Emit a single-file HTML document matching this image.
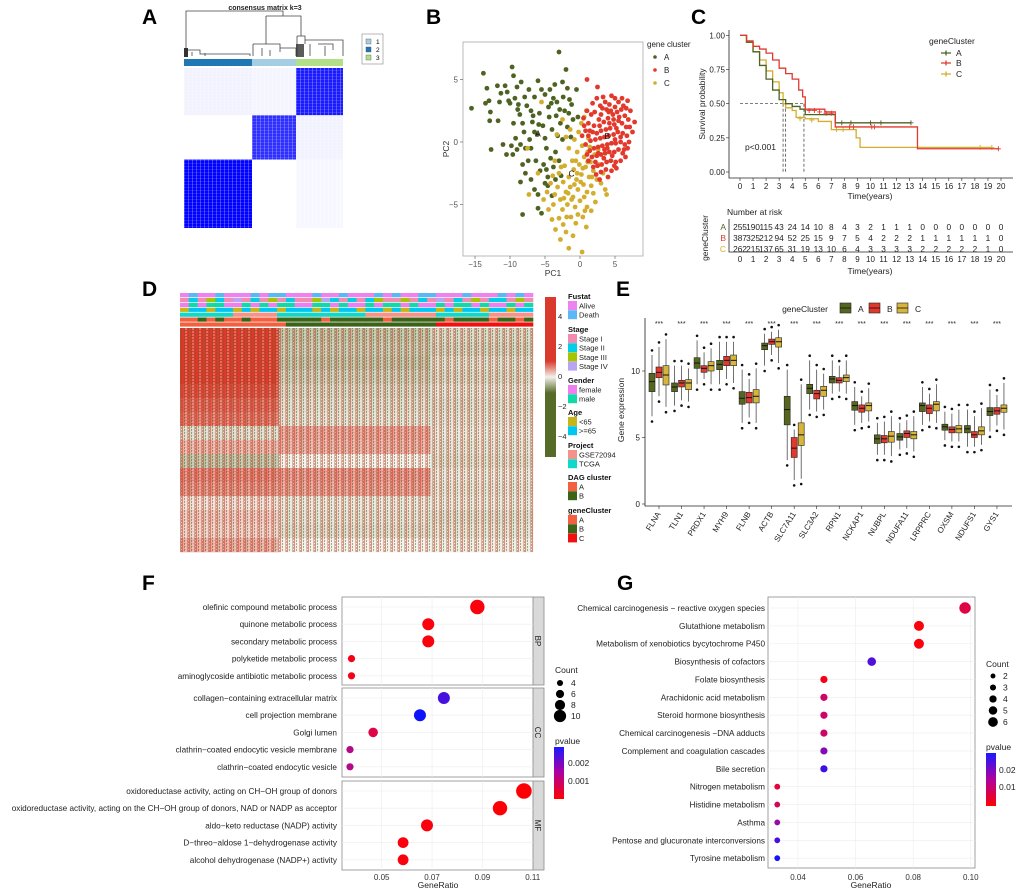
<!DOCTYPE html>
<html><head><meta charset="utf-8">
<style>
body{margin:0;background:#fff}
svg{display:block;font-family:"Liberation Sans",sans-serif}
</style></head>
<body>
<svg id="fig" width="1020" height="891" viewBox="0 0 1020 891">
<defs>
  <pattern id="tex" width="7" height="3" patternUnits="userSpaceOnUse">
    <rect x="0" y="0" width="1" height="3" fill="#d93a2b" opacity="0.55"/>
    <rect x="2" y="0" width="1" height="2" fill="#4f6420" opacity="0.5"/>
    <rect x="3.5" y="1" width="1" height="2" fill="#ffffff" opacity="0.5"/>
    <rect x="5" y="0" width="1" height="3" fill="#d93a2b" opacity="0.35"/>
    <rect x="6" y="1" width="1" height="2" fill="#4f6420" opacity="0.45"/>
  </pattern>
  <pattern id="texA" width="4" height="3" patternUnits="userSpaceOnUse">
    <rect x="0" y="0" width="1" height="3" fill="#ffffff" opacity="0.25"/>
    <rect x="0" y="1" width="4" height="0.6" fill="#ffffff" opacity="0.2"/>
  </pattern>
  <linearGradient id="dGrad" x1="0" y1="0" x2="0" y2="1">
    <stop offset="0" stop-color="#d93a2b"/><stop offset="0.4" stop-color="#d93a2b"/>
    <stop offset="0.5" stop-color="#f3f0ea"/><stop offset="0.6" stop-color="#566b27"/>
    <stop offset="1" stop-color="#566b27"/>
  </linearGradient>
  <linearGradient id="pGrad" x1="0" y1="1" x2="0" y2="0">
    <stop offset="0" stop-color="#ff0000"/><stop offset="0.5" stop-color="#b0009e"/>
    <stop offset="1" stop-color="#1a1aff"/>
  </linearGradient>
</defs>

<text x="142" y="24" font-size="21" font-weight="bold">A</text>
<text x="426" y="24" font-size="21" font-weight="bold">B</text>
<text x="691" y="24" font-size="21" font-weight="bold">C</text>
<text x="142" y="296" font-size="21" font-weight="bold">D</text>
<text x="616" y="296" font-size="21" font-weight="bold">E</text>
<text x="142" y="590" font-size="21" font-weight="bold">F</text>
<text x="617" y="590" font-size="21" font-weight="bold">G</text>

<!-- Panel A static -->
<text x="265" y="10" font-size="7" font-weight="bold" text-anchor="middle" fill="#222">consensus matrix k=3</text>
<g stroke="#444" stroke-width="0.8" fill="none">
  <path d="M186,56 V11 H283 V16"/>
  <path d="M266,16 H301 V36"/>
  <path d="M266,16 V44 M253,44 H280 V52 M253,44 V56 M280,48 H296 V56 M262,48 V56 M270,50 V56"/>
  <path d="M186,50 H200 V54 H250 V56 M192,52 V56 M205,53 V56"/>
  <path d="M297,36 H305 V44 M305,40 H343 V56 M297,36 V56 M310,44 V56 M318,44 H333 V50 M325,46 V56"/>
</g>
<rect x="184" y="48" width="4" height="9" fill="#333"/>
<rect x="296" y="44" width="8" height="13" fill="#333" opacity="0.8"/>
<rect x="362" y="34" width="21" height="30" fill="#fff" stroke="#888" stroke-width="0.6"/>
<rect x="366" y="39" width="5" height="5" fill="#a6cee3" stroke="#555" stroke-width="0.4"/>
<text x="376" y="44" font-size="6.5">1</text>
<rect x="366" y="47" width="5" height="5" fill="#1f78b4" stroke="#555" stroke-width="0.4"/>
<text x="376" y="52" font-size="6.5">2</text>
<rect x="366" y="55" width="5" height="5" fill="#b2df8a" stroke="#555" stroke-width="0.4"/>
<text x="376" y="60" font-size="6.5">3</text>
<g id="panelA"></g>

<!-- Panel B static -->
<rect x="463" y="42" width="180" height="214" fill="#fff" stroke="#aaa" stroke-width="0.8"/>
<text x="553" y="276" font-size="8.5" text-anchor="middle" fill="#333">PC1</text>
<text transform="translate(449,149) rotate(-90)" font-size="8.5" text-anchor="middle" fill="#333">PC2</text>
<text x="647" y="47" font-size="8" fill="#222">gene cluster</text>
<g id="panelB"></g>

<!-- Panel C static -->
<g id="panelC"></g>
<text transform="translate(705,104) rotate(-90)" font-size="8.5" text-anchor="middle" fill="#222">Survival probability</text>
<text x="870" y="199" font-size="8.5" text-anchor="middle" fill="#222">Time(years)</text>
<text x="745" y="150" font-size="8.5" fill="#222">p&lt;0.001</text>
<text x="929" y="44" font-size="8.5" fill="#222">geneCluster</text>
<text x="727" y="215" font-size="8.5" fill="#222">Number at risk</text>
<text transform="translate(708,238) rotate(-90)" font-size="8.5" text-anchor="middle" fill="#222">geneCluster</text>
<text x="870" y="274" font-size="8.5" text-anchor="middle" fill="#222">Time(years)</text>

<!-- Panel D -->
<g id="panelD"></g>
<rect x="545" y="297" width="11" height="160" fill="url(#dGrad)"/>

<!-- Panel E -->
<g id="panelE"></g>
<text transform="translate(624,410) rotate(-90)" font-size="8.5" text-anchor="middle" fill="#222">Gene expression</text>
<text x="805" y="312" font-size="8.5" text-anchor="middle" fill="#222">geneCluster</text>

<!-- Panel F -->
<g id="panelF"></g>
<text x="438" y="888" font-size="8.5" text-anchor="middle" fill="#222">GeneRatio</text>
<text x="555" y="673" font-size="8.5" fill="#222">Count</text>
<text x="555" y="744" font-size="8.5" fill="#222">pvalue</text>
<rect x="554" y="747" width="10" height="52" fill="url(#pGrad)"/>

<!-- Panel G -->
<g id="panelG"></g>
<text x="871" y="888" font-size="8.5" text-anchor="middle" fill="#222">GeneRatio</text>
<text x="986" y="667" font-size="8.5" fill="#222">Count</text>
<text x="986" y="750" font-size="8.5" fill="#222">pvalue</text>
<rect x="986" y="753" width="10" height="53" fill="url(#pGrad)"/>

<script>
// ---------- DATA ----------
const consOrder = ['2','1','3'];
const consSizes = [68, 44, 47];
const consColors = ['#1f78b4','#a6cee3','#b2df8a'];
const consMatrix = [
  [1.0, 0.0, 0.03],
  [0.0, 0.82, 0.05],
  [0.05, 0.04, 0.9]
];
const pcaA = [-15.5,2.7,-13.8,5.5,-13.3,4.3,-13,3.3,-12.8,2.4,-13.5,3.1,-12.9,1.7,-12.7,-0.6,-11.8,4.5,-11.7,1.7,-11.3,3.9,-11.5,3.2,-10.7,4.5,-10.4,4,-10.2,3.3,-10,3.1,-9.7,6,-9.5,5.3,-9.3,3.5,-9,4.4,-8.8,3,-8.6,2.2,-8.4,4.8,-8.2,1.5,-8,0.8,-7.6,2.9,-7.3,4.2,-7,2.5,-6.5,3.6,-6,4.9,-5.5,4.2,-5,3.8,-4.5,2.8,-4.3,4.2,-3.8,3.5,-3.3,3.2,-3,7.2,-2.5,4.8,-2,5.8,-1.8,4.3,-1.5,3.4,-0.5,4.2,-0.3,2,-9.5,1.5,-9.2,0.3,-9.8,-0.3,-9.6,-1,-9,-0.6,-8.5,-0.2,-8.2,-1.8,-7.8,-0.5,-7.4,-1.5,-7,-0.5,-6.5,0.8,-6.1,0.6,-5.8,2.3,-5.3,1.3,-5,0.3,-4.8,-0.5,-4.4,2,-4,1,-3.5,-0.8,-3.2,0.5,-2.8,1.5,-2.5,0.2,-2.2,2.5,-1.8,1.2,-1.3,0.4,-1,1.8,-6.3,-1.5,-5.7,-2.3,-5.2,-1.8,-4.6,-2.8,-4.2,-1.3,-3.8,-2,-3,-1.5,-2.7,-2.7,-8.5,-3.2,-7.8,-2.5,-7,-3,-6.5,-3.8,-6,-4.2,-5,-3.3,-4.6,-3.5,-4,-4.3,-8.2,-5.8,-6,-5.3,-5.5,-5.7,-4.8,-2.2,-3.5,-3,-10.5,-1,-11,-0.2,-7.2,0.2,-6.8,1.6,-3.6,4.6,-2.9,2.6,-1.2,3,-8.9,2.6,-7.9,3.6,-6.7,2.1,-5.9,1.4,-4.1,3.1,-3.4,2.1,-2.4,3.6,-1.6,2.3];
const pcaB = [1,5,2.5,4.4,3.3,3.6,4.5,3.7,6,3.5,6.8,3.3,7.2,2.5,7.8,1.6,5.5,3.2,5,2.8,4.2,3,3.8,2.6,3,2.2,2.4,3.5,1.8,3.1,1,2.5,0.5,1.9,1.2,1.5,2,1.3,2.7,1.8,3.4,1.6,4,1.9,4.7,2.2,5.3,2.4,5.9,2.6,6.4,2.1,6.9,1.8,7.1,1.2,6.6,1.2,6,1.5,5.5,1.7,4.9,1.4,4.3,1.1,3.7,1,3,0.9,2.4,0.7,1.8,0.8,1.2,0.5,0.8,0.9,1.5,0.1,2.2,0.2,2.9,0.3,3.5,0.4,4.1,0.5,4.8,0.6,5.4,0.8,6.1,0.7,6.7,0.5,7,0,6.4,-0.2,5.8,0,5.1,-0.1,4.5,-0.1,3.9,-0.2,3.2,-0.3,2.6,-0.4,2,-0.5,1.4,-0.7,1,-1,1.7,-1.2,2.4,-1.1,3,-1,3.6,-0.9,4.2,-0.8,4.9,-0.8,5.5,-0.6,6.1,-0.9,6.5,-1.2,5.8,-1.5,5.1,-1.6,4.4,-1.5,3.8,-1.6,3.1,-1.8,2.5,-1.9,1.9,-2,2.3,-2.6,3,-2.4,3.7,-2.2,4.5,-2.3,5.2,-2.1,4,-2.8,2.8,-3,4.4,2.5,3.6,3.2,5.6,2,6.2,2.9,2.9,2.9,1.6,2.2,0.6,1.3,4.2,1.5,5,3.5,6.6,2.7,3.5,-0.6,1.2,-1.5,2.8,1.3,0.3,0.5,0.8,-0.2,6.8,-0.5,7.5,0.8,5,0.2,4.6,-1.1,2.2,-1.6,3.2,2.7,4.8,1.8,5.8,0.4,2.6,-0.9,3.4,-1.3,4.9,-1.9,1.4,0.9,2.1,2.4,6.3,-0.6,5.2,1.1,4.1,2.4,3.9,-0.5];
const pcaC = [-7.5,-0.5,-7.3,-4.2,-6,-2.5,-5.5,3.2,-4.7,-4,-4.2,-3.3,-3.8,-5,-3.6,-4.2,-3.2,-3.6,-3,-2.5,-2.8,-4.6,-2.5,-5.4,-2.4,-3.2,-2.2,-1.9,-2,-4,-1.8,-5,-1.6,-2.8,-1.4,-3.6,-1.3,-6,-1.1,-1.5,-1,-4.4,-0.9,-2.2,-0.7,-5.2,-0.5,-3,-0.4,-0.8,-0.3,-3.8,-0.1,-1.8,0,-4.7,0.2,-2.6,0.3,-0.3,0.5,-3.4,0.6,-1.2,0.8,-2,1,-4,1.1,-0.8,1.3,-2.8,1.5,-1.6,1.6,-3.5,1.9,-2.3,2.1,-1,2.4,-3,2.7,-1.8,3,-3.3,3.3,-2.5,3.6,-3.8,3.8,-4.2,-0.2,0.8,0.2,1.5,0.6,2,-0.8,0.2,-1.6,-0.5,-2.5,1.8,-3.3,0.6,1.2,0.3,0.9,2.5,-4,-6.2,-3.5,-7,-2.8,-7.8,-2.4,-6.6,-2,-7.2,-1.6,-8.5,-1,-7.5,-0.6,-6.5,0.4,-6,1,-5.2,1.6,-5.5,2.2,-4.8,0.3,-8.8,-3,-6.1,-1.9,-6,-1.2,-4.6,0.6,-4.4,1.9,-4.1,-2.7,-2,-3.6,-1.5,-0.6,-1.5,0.1,-3.2,1.4,-0.4,2.6,-0.6,-1.4,1,-2,0.4,-0.3,-5.8,0.9,-6.8,-4.5,-5.4,-5.2,-4.6,-3.9,-2.7,-0.8,-3.4,0.4,-2.1,1.7,-2.8,-1.7,-4.1,-2.3,-4.5,0.7,-5.5,-0.4,-2.5,1.1,-1.6];
const pcaXTicks = [-15,-10,-5,0,5];
const pcaYTicks = [5,0,-5];
const kmTimeA = [0,0.5,1,1.5,2,2.5,3,3.5,4,4.6,5,7.3,13.1];
const kmSurvA = [1,0.95,0.88,0.78,0.68,0.6,0.53,0.5,0.48,0.46,0.42,0.36,0.36];
const kmTimeB = [0,0.5,1,1.5,2,2.5,3,3.5,4,4.5,4.8,5,6.5,7.3,13.6,19.8];
const kmSurvB = [1,0.96,0.92,0.9,0.87,0.82,0.76,0.72,0.68,0.6,0.55,0.46,0.44,0.33,0.17,0.17];
const kmTimeC = [0,0.5,1,1.5,2,2.5,3,3.3,3.5,4,4.3,5,6,7,8.9,9.2,19.3];
const kmSurvC = [1,0.95,0.88,0.82,0.74,0.66,0.58,0.5,0.47,0.45,0.4,0.39,0.37,0.31,0.25,0.18,0.18];
const censorTimeA = [7.8,8.5,10,10.8,13.1];
const censorSurvA = [0.36,0.36,0.36,0.36,0.36];
const censorTimeB = [5.3,5.7,6.1,6.6,7,8.4,8.7,10.1,10.3,19.8];
const censorSurvB = [0.45,0.45,0.44,0.43,0.43,0.33,0.33,0.33,0.33,0.17];
const censorTimeC = [4.6,5.5,7.4,7.9,18.4,19.3];
const censorSurvC = [0.39,0.38,0.31,0.31,0.18,0.18];
const medianTimes = [3.3,3.5,4.9];
const kmYTicks = [0,0.25,0.5,0.75,1];
const kmYTickLabels = ['0.00','0.25','0.50','0.75','1.00'];
const riskA = [255,190,115,43,24,14,10,8,4,3,2,1,1,1,0,0,0,0,0,0,0];
const riskB = [387,325,212,94,52,25,15,9,7,5,4,2,2,2,1,1,1,1,1,1,0];
const riskC = [262,215,137,65,31,19,13,10,6,4,3,3,3,3,2,2,2,2,2,1,0];
const hmBandValsA = [2.6,2.6,2.5,2.5,2.3,2.0,1.8,-0.4,0.9,-0.9,1.6,1.4,0.3,0.6,0.5,1.0];
const hmBandValsB = [-0.9,-0.8,-0.9,-0.7,-0.5,-0.4,-0.3,1.1,1.0,0,1.3,1.2,-0.2,-0.3,-0.4,0];
const hmBandValsC = [-0.5,-0.6,-0.4,-0.5,-0.3,-0.4,-0.3,-0.2,-0.3,-0.4,-0.2,-0.3,-0.2,-0.4,-0.3,-0.1];
const hmGroupFrac = [0.28, 0.43, 0.29];
const trackFustat = "ADAADAAADADDAAADAADAAADADAADDAAADAAADADA";
const trackStage  = "1213214121312113421212311312141213122131";
const trackGender = "FMFMMFFMFMFMMFFMMFMFFMFMMFMFFMFMMFMFFMFM";
const trackAge    = "YOOYOOYOYOOYOOOYOYOOYOOYOYOOOYOYOOYOOYOO";
const trackProject = "TTTTTTGGGGGTTTTTTTTTTGGGGGGGGTTTTTTGGGGG";
const trackDAG    = "AABABAABAAABBBBBABBBBBBABBBBBBABBBBABBAB";
const trackGene   = "AAAAAAAAAAAABBBBBBBBBBBBBBBBBCCCCCCCCCCC";
const genes = ['FLNA','TLN1','PRDX1','MYH9','FLNB','ACTB','SLC7A11','SLC3A2','RPN1','NCKAP1','NUBPL','NDUFA11','LRPPRC','OXSM','NDUFS1','GYS1'];
const medA = [9.2,8.8,10.6,10.5,7.95,11.9,7.1,8.7,9.4,7.4,4.9,5.05,7.4,5.8,5.65,6.95];
const q1A  = [8.45,8.45,10.2,10.1,7.5,11.6,5.95,8.3,9.1,7.05,4.55,4.8,6.95,5.55,5.35,6.65];
const q3A  = [9.83,9.1,11.0,10.8,8.45,12.1,8.1,9.0,9.6,7.7,5.2,5.3,7.6,6.0,5.9,7.25];
const loA  = [6.6,7.4,9.0,9.0,6.1,10.4,3.3,7.1,8.3,5.95,3.7,4.1,5.95,4.8,4.3,5.45];
const hiA  = [11.2,10.4,12.3,12.2,10.1,12.8,10.1,10.8,10.8,8.8,6.1,6.1,8.8,6.95,7.1,8.6];
const medB = [9.9,9.1,10.2,10.8,8.0,12.2,4.2,8.3,9.3,7.2,4.9,5.3,7.2,5.6,5.2,7.0];
const q1B  = [9.5,8.8,9.9,10.4,7.6,12.0,3.5,7.9,9.1,6.9,4.6,5.0,6.8,5.35,5.0,6.75];
const q3B  = [10.3,9.3,10.4,11.1,8.4,12.4,5.0,8.55,9.5,7.45,5.15,5.5,7.45,5.8,5.45,7.25];
const loB  = [8.1,7.8,9.4,9.4,6.5,11.2,1.8,6.95,8.45,6.1,3.7,4.2,6.2,4.7,4.3,5.9];
const hiB  = [11.8,10.4,11.4,12.2,9.4,12.95,5.6,10.1,10.4,8.1,6.2,6.3,8.3,6.8,6.6,8.2];
const medC = [9.7,9.1,10.4,10.8,8.1,12.2,5.2,8.55,9.5,7.4,5.1,5.2,7.5,5.65,5.5,7.2];
const q1C  = [8.95,8.6,10.0,10.4,7.6,11.8,4.4,8.1,9.2,7.0,4.65,4.9,7.0,5.35,5.2,6.9];
const q3C  = [10.4,9.35,10.7,11.2,8.6,12.5,6.1,8.85,9.7,7.6,5.45,5.45,7.7,5.9,5.8,7.45];
const loC  = [7.3,7.7,9.0,9.1,6.1,10.6,1.9,7.1,8.3,6.2,3.6,3.95,6.1,4.7,4.45,5.6];
const hiC  = [12.4,10.2,11.7,12.2,10.2,13.1,9.0,9.8,10.8,8.7,6.6,6.6,9.0,7.1,7.2,9.1];
const eYTicks = [0,5,10];
const fTerms = ['olefinic compound metabolic process','quinone metabolic process','secondary metabolic process','polyketide metabolic process','aminoglycoside antibiotic metabolic process',
 'collagen−containing extracellular matrix','cell projection membrane','Golgi lumen','clathrin−coated endocytic vesicle membrane','clathrin−coated endocytic vesicle',
 'oxidoreductase activity, acting on CH−OH group of donors','oxidoreductase activity, acting on the CH−OH group of donors, NAD or NADP as acceptor','aldo−keto reductase (NADP) activity','D−threo−aldose 1−dehydrogenase activity','alcohol dehydrogenase (NADP+) activity'];
const fRatio = [0.088,0.0685,0.0685,0.038,0.038, 0.0747,0.0652,0.0466,0.0374,0.0374, 0.1065,0.097,0.068,0.0585,0.0585];
const fCount = [10,8,8,4,4, 8,8,6,4,4, 11,10,8,7,7];
const fPval  = [0.0001,0.0001,0.0001,0.0002,0.0002, 0.0023,0.0028,0.0006,0.0012,0.0012, 0.00005,0.00005,0.0001,0.0001,0.0001];
const fFacets = ['BP','CC','MF'];
const fXTicks = [0.05,0.07,0.09,0.11];
const fCountLegend = [4,6,8,10];
const gTerms = ['Chemical carcinogenesis − reactive oxygen species','Glutathione metabolism','Metabolism of xenobiotics bycytochrome P450','Biosynthesis of cofactors','Folate biosynthesis','Arachidonic acid metabolism','Steroid hormone biosynthesis','Chemical carcinogenesis −DNA adducts','Complement and coagulation cascades','Bile secretion','Nitrogen metabolism','Histidine metabolism','Asthma','Pentose and glucuronate interconversions','Tyrosine metabolism'];
const gRatio = [0.098,0.082,0.082,0.0656,0.049,0.049,0.049,0.049,0.049,0.049,0.0328,0.0328,0.0328,0.0328,0.0328];
const gCount = [6,5,5,4,3,3,3,3,3,3,2,2,2,2,2];
const gPval  = [0.006,0.001,0.001,0.023,0.002,0.009,0.009,0.009,0.018,0.025,0.005,0.008,0.016,0.024,0.028];
const gXTicks = [0.04,0.06,0.08,0.10];
const gCountLegend = [2,3,4,5,6];

// ---------- HELPERS ----------
const NS = 'http://www.w3.org/2000/svg';
function mk(tag, attrs, parent) {
  const e = document.createElementNS(NS, tag);
  for (const k in attrs) e.setAttribute(k, attrs[k]);
  parent.appendChild(e);
  return e;
}
function txt(parent, s, x, y, size, anchor, fill) {
  const e = mk('text', {x: x, y: y, 'font-size': size, 'text-anchor': anchor || 'start', fill: fill || '#333'}, parent);
  e.textContent = s;
  return e;
}
function lerpHex(a, b, t) {
  const pa = [1,3,5].map(i => parseInt(a.substr(i,2),16));
  const pb = [1,3,5].map(i => parseInt(b.substr(i,2),16));
  return 'rgb(' + pa.map((v,i) => Math.round(v + (pb[i]-v)*t)).join(',') + ')';
}
function pColor(p, pmax) {
  const t = Math.max(0, Math.min(1, p / pmax));
  const r = Math.round(255*(1-t) + 60*t*(1-t)*2);
  const g = Math.round(20*t);
  const b = Math.round(255*t + 60*t*(1-t)*2);
  return 'rgb(' + r + ',' + g + ',' + b + ')';
}

// ---------- PANEL A ----------
(function(){
  const g = document.getElementById('panelA');
  const x0 = 184, y0 = 68, W = 159, H = 160;
  const tot = consSizes.reduce((a,b)=>a+b,0);
  let cx = x0;
  const colX = [];
  consSizes.forEach((s,i) => {
    const w = s / tot * W;
    colX.push([cx, w]);
    const bar = mk('rect', {x: cx, y: 59, width: w, height: 7, fill: consColors[i]}, g);
    
    
    cx += w;
  });
  let ry = y0;
  for (let ri = consSizes.length - 1; ri >= 0; ri--) {
    const h = consSizes[ri] / tot * H;
    for (let ci = 0; ci < consSizes.length; ci++) {
      const v = consMatrix[ri][ci];
      const cell = mk('rect', {x: colX[ci][0], y: ry, width: colX[ci][1], height: h, fill: lerpHex('#ffffff', '#0000ff', v)}, g);
      
      
    }
    ry += h;
  }
  const ov = mk('rect', {x: x0, y: y0, width: W, height: H, fill: 'url(#texA)'}, g);
  
  
})();

// ---------- PANEL B ----------
(function(){
  const g = document.getElementById('panelB');
  const xs = v => 580 + v * 7, ys = v => 142 - v * 12.5;
  pcaXTicks.forEach(t => {
    const tl = mk('line', {x1: xs(t), x2: xs(t), y1: 256, y2: 259, stroke: '#555', 'stroke-width': 0.6}, g);
    
    
    const lb = txt(g, String(t).replace('-', '−'), xs(t), 267, 8, 'middle', '#555');
    
    
  });
  pcaYTicks.forEach(t => {
    const tl = mk('line', {x1: 460, x2: 463, y1: ys(t), y2: ys(t), stroke: '#555', 'stroke-width': 0.6}, g);
    
    
    const lb = txt(g, String(t).replace('-', '−'), 458, ys(t) + 3, 8, 'end', '#555');
    
    
  });
  const sets = [[pcaA, '#4e6222', 'A'], [pcaC, '#d3ae2e', 'C'], [pcaB, '#e2392c', 'B']];
  sets.forEach(([arr, col, nm]) => {
    for (let i = 0; i < arr.length; i += 2) {
      const c = mk('circle', {cx: xs(arr[i]), cy: ys(arr[i+1]), r: 2.4, fill: col}, g);
      
      
    }
  });
  [['A', -6, 0.7], ['B', 3.9, 0.5], ['C', -1.2, -2.5]].forEach(([l, x, y]) => {
    const t = txt(g, l, xs(x), ys(y) + 3, 8.5, 'middle', '#111');
    
    
  });
  [['A', '#4e6222', 57], ['B', '#e2392c', 70], ['C', '#d3ae2e', 83]].forEach(([l, c, y]) => {
    const d = mk('circle', {cx: 655, cy: y, r: 1.8, fill: c}, g);
    
    
    const t = txt(g, l, 664, y + 3, 8, 'start', '#222');
    
    
  });
})();

// ---------- PANEL C ----------
(function(){
  const g = document.getElementById('panelC');
  const xt = t => 740 + t * 13.05, ys = s => 172 - s * 136.6;
  const ax = mk('path', {d: 'M729,30 V178 H1013', stroke: '#222', 'stroke-width': 0.8, fill: 'none'}, g);
  
  
  kmYTicks.forEach((t, i) => {
    const tl = mk('line', {x1: 726, x2: 729, y1: ys(t), y2: ys(t), stroke: '#222', 'stroke-width': 0.6}, g);
    
    
    const lb = txt(g, kmYTickLabels[i], 725, ys(t) + 3, 8, 'end', '#222');
    
    
  });
  for (let t = 0; t <= 20; t++) {
    const tl = mk('line', {x1: xt(t), x2: xt(t), y1: 178, y2: 181, stroke: '#222', 'stroke-width': 0.6}, g);
    
    
    const lb = txt(g, String(t), xt(t), 189, 8, 'middle', '#222');
    
    
  }
  const ml = mk('line', {x1: xt(0), x2: xt(medianTimes[2]), y1: ys(0.5), y2: ys(0.5), stroke: '#333', 'stroke-width': 0.7, 'stroke-dasharray': '3,2'}, g);
  
  
  medianTimes.forEach(t => {
    const vl = mk('line', {x1: xt(t), x2: xt(t), y1: ys(0.5), y2: ys(0), stroke: '#333', 'stroke-width': 0.7, 'stroke-dasharray': '3,2'}, g);
    
    
  });
  const curves = [[kmTimeC, kmSurvC, censorTimeC, censorSurvC, '#d3ae2e', 'C'], [kmTimeA, kmSurvA, censorTimeA, censorSurvA, '#4e6222', 'A'], [kmTimeB, kmSurvB, censorTimeB, censorSurvB, '#e2392c', 'B']];
  curves.forEach(([T, S, CT, CS, col, nm]) => {
    let d = 'M' + xt(T[0]) + ',' + ys(S[0]);
    for (let i = 1; i < T.length; i++) d += ' H' + xt(T[i]) + ' V' + ys(S[i]);
    const p = mk('path', {d: d, stroke: col, 'stroke-width': 1.3, fill: 'none'}, g);
    
    
    CT.forEach((t, i) => {
      const c = mk('path', {d: 'M' + (xt(t) - 2.5) + ',' + ys(CS[i]) + ' h5 M' + xt(t) + ',' + (ys(CS[i]) - 2.5) + ' v5', stroke: col, 'stroke-width': 0.9}, g);
      
      
    });
  });
  [['A', '#4e6222', 53], ['B', '#e2392c', 63], ['C', '#d3ae2e', 74]].forEach(([l, c, y]) => {
    const k = mk('path', {d: 'M941,' + y + ' h10 M946,' + (y - 2.5) + ' v5', stroke: c, 'stroke-width': 1.3}, g);
    
    
    const t = txt(g, l, 956, y + 3, 8.5, 'start', '#222');
    
    
  });
  const tax = mk('path', {d: 'M729,219 V252 H1013', stroke: '#222', 'stroke-width': 0.8, fill: 'none'}, g);
  
  
  [[riskA, '#4e6222', 'A', 227], [riskB, '#e2392c', 'B', 238], [riskC, '#d3ae2e', 'C', 249]].forEach(([arr, col, nm, y]) => {
    const lb = txt(g, nm, 726, y + 3, 8.5, 'end', col);
    
    
    arr.forEach((v, t) => {
      const e = txt(g, String(v), xt(t), y + 3, 8.3, 'middle', '#222');
      
      
    });
  });
  for (let t = 0; t <= 20; t++) {
    const lb = txt(g, String(t), xt(t), 262, 8, 'middle', '#222');
    
    
  }
})();

// ---------- PANEL D ----------
(function(){
  const g = document.getElementById('panelD');
  const x0 = 180, W = 353;
  const trackColors = {
    fustat: {A: '#ee82ee', D: '#5bb8f5'},
    stage: {'1': '#f38bb1', '2': '#00cfe6', '3': '#a7c400', '4': '#b8a3f5'},
    gender: {F: '#f07ef0', M: '#11d9a8'},
    age: {Y: '#c9b517', O: '#00c7f2'},
    project: {G: '#f6928a', T: '#11d8c8'},
    dag: {A: '#f2603f', B: '#3c6419'},
    gene: {A: '#f2603f', B: '#3c6419', C: '#f01010'}
  };
  const tracks = [[trackFustat, 'fustat'], [trackStage, 'stage'], [trackGender, 'gender'], [trackAge, 'age'], [trackProject, 'project'], [trackDAG, 'dag'], [trackGene, 'gene']];
  tracks.forEach(([str, key], ti) => {
    const cw = W / str.length;
    const y = 293 + ti * 4.9;
    for (let i = 0; i < str.length; i++) {
      const r = mk('rect', {x: x0 + i * cw, y: y, width: cw + 0.3, height: 4.2, fill: trackColors[key][str[i]]}, g);
      
      
    }
  });
  const bands = [hmBandValsA, hmBandValsB, hmBandValsC];
  const bh = 224 / 16;
  let gx = x0;
  const valColor = v => v >= 0 ? lerpHex('#f3f0ea', '#d93a2b', Math.min(1, v / 2.5)) : lerpHex('#f3f0ea', '#566b27', Math.min(1, -v / 2.5));
  bands.forEach((vals, gi) => {
    const gw = hmGroupFrac[gi] * W;
    vals.forEach((v, bi) => {
      const r = mk('rect', {x: gx, y: 328 + bi * bh, width: gw + 0.3, height: bh + 0.3, fill: valColor(v)}, g);
      
      
    });
    gx += gw;
  });
  const tex = mk('rect', {x: x0, y: 328, width: W, height: 224, fill: 'url(#tex)'}, g);
  
  
  [['4', 316], ['2', 346], ['0', 376], ['−2', 406], ['−4', 436]].forEach(([l, y]) => {
    const t = txt(g, l, 558, y + 3, 7.5, 'start', '#222');
    
    
  });
  const legend = [
    ['Fustat', 299, [['Alive', '#ee82ee'], ['Death', '#5bb8f5']]],
    ['Stage', 332, [['Stage I', '#f38bb1'], ['Stage II', '#00cfe6'], ['Stage III', '#a7c400'], ['Stage IV', '#b8a3f5']]],
    ['Gender', 383, [['female', '#f07ef0'], ['male', '#11d9a8']]],
    ['Age', 415, [['<65', '#c9b517'], ['>=65', '#00c7f2']]],
    ['Project', 448, [['GSE72094', '#f6928a'], ['TCGA', '#11d8c8']]],
    ['DAG cluster', 480, [['A', '#f2603f'], ['B', '#3c6419']]],
    ['geneCluster', 513, [['A', '#f2603f'], ['B', '#3c6419'], ['C', '#f01010']]]
  ];
  legend.forEach(([title, y, items]) => {
    const t = mk('text', {x: 568, y: y, 'font-size': 7.5, 'font-weight': 'bold', fill: '#111'}, g);
    t.textContent = title;
    
    
    items.forEach(([lab, col], i) => {
      const yy = y + 2 + i * 9.2;
      const r = mk('rect', {x: 568, y: yy, width: 9, height: 9, fill: col}, g);
      
      
      const l = txt(g, lab, 579, yy + 7.5, 7.5, 'start', '#222');
      
      
    });
  });
})();

// ---------- PANEL E ----------
(function(){
  const g = document.getElementById('panelE');
  const ys = v => 504 - v * 13.3;
  const xc = i => 659 + i * 22.53;
  const ax = mk('path', {d: 'M645,318 V506 H1012', stroke: '#222', 'stroke-width': 0.8, fill: 'none'}, g);
  
  
  eYTicks.forEach(t => {
    const tl = mk('line', {x1: 642, x2: 645, y1: ys(t), y2: ys(t), stroke: '#222', 'stroke-width': 0.6}, g);
    
    
    const lb = txt(g, String(t), 640, ys(t) + 3, 8, 'end', '#222');
    
    
  });
  const groups = [[medA, q1A, q3A, loA, hiA, '#56661f'], [medB, q1B, q3B, loB, hiB, '#e2392c'], [medC, q1C, q3C, loC, hiC, '#d7b53a']];
  genes.forEach((gn, i) => {
    groups.forEach(([md, q1, q3, lo, hi, col], k) => {
      const x = xc(i) + (k - 1) * 7;
      const w = mk('line', {x1: x, x2: x, y1: ys(hi[i]), y2: ys(lo[i]), stroke: '#333', 'stroke-width': 0.7}, g);
      
      
      const b = mk('rect', {x: x - 3, y: ys(q3[i]), width: 6, height: ys(q1[i]) - ys(q3[i]), fill: col, stroke: '#222', 'stroke-width': 0.6}, g);
      
      
      const m = mk('line', {x1: x - 3, x2: x + 3, y1: ys(md[i]), y2: ys(md[i]), stroke: '#111', 'stroke-width': 1}, g);
      
      
      [lo[i] - 0.4, hi[i] + 0.35].forEach(v => {
        const o = mk('circle', {cx: x, cy: ys(v), r: 1.3, fill: '#111'}, g);
        
        
      });
    });
    const s = txt(g, '***', xc(i), 326, 7, 'middle', '#222');
    
    
    const tl = mk('line', {x1: xc(i), x2: xc(i), y1: 506, y2: 509, stroke: '#222', 'stroke-width': 0.6}, g);
    
    
    const lb = mk('text', {x: xc(i) + 2, y: 514, 'font-size': 8, 'text-anchor': 'end', fill: '#222', transform: 'rotate(-58 ' + (xc(i) + 2) + ' 514)'}, g);
    lb.textContent = gn;
    
    
  });
  [['A', '#56661f', 840], ['B', '#e2392c', 869], ['C', '#d7b53a', 897]].forEach(([l, c, x]) => {
    const r = mk('rect', {x: x, y: 303, width: 11, height: 10, fill: c, stroke: '#222', 'stroke-width': 0.6}, g);
    
    
    const m = mk('line', {x1: x, x2: x + 11, y1: 308, y2: 308, stroke: '#111', 'stroke-width': 0.8}, g);
    
    
    const t = txt(g, l, x + 18, 312, 8.5, 'start', '#222');
    
    
  });
})();

// ---------- PANEL F ----------
(function(){
  const g = document.getElementById('panelF');
  const xs = r => 381.7 + (r - 0.05) * 2517;
  const facetTop = [597, 688, 781], facetH = [88, 89, 89];
  const rad = c => 1.2 + 0.6 * c;
  fFacets.forEach((f, fi) => {
    const bg = mk('rect', {x: 342, y: facetTop[fi], width: 191, height: facetH[fi], fill: '#fff', stroke: '#8a8a8a', 'stroke-width': 0.8}, g);
    
    
    fXTicks.forEach(t => {
      const gl = mk('line', {x1: xs(t), x2: xs(t), y1: facetTop[fi], y2: facetTop[fi] + facetH[fi], stroke: '#ececec', 'stroke-width': 0.6}, g);
      
      
    });
    const st = mk('rect', {x: 533, y: facetTop[fi], width: 11, height: facetH[fi], fill: '#d9d9d9', stroke: '#8a8a8a', 'stroke-width': 0.8}, g);
    
    
    const sl = mk('text', {x: 535, y: facetTop[fi] + facetH[fi] / 2, 'font-size': 8, fill: '#222', 'text-anchor': 'middle', transform: 'rotate(90 535 ' + (facetTop[fi] + facetH[fi] / 2) + ')'}, g);
    sl.textContent = f;
    
    
  });
  fTerms.forEach((term, i) => {
    const fi = Math.floor(i / 5), j = i % 5;
    const y = facetTop[fi] + 10 + j * 17.2;
    const gl = mk('line', {x1: 342, x2: 533, y1: y, y2: y, stroke: '#ececec', 'stroke-width': 0.6}, g);
    
    
    const lb = txt(g, term, 337, y + 3, 8.2, 'end', '#222');
    
    
    const c = mk('circle', {cx: xs(fRatio[i]), cy: y, r: rad(fCount[i]), fill: pColor(fPval[i], 0.0029)}, g);
    
    
  });
  fXTicks.forEach(t => {
    const lb = txt(g, t.toFixed(2), xs(t), 880, 8, 'middle', '#333');
    
    
  });
  fCountLegend.forEach((c, i) => {
    const y = 683 + i * 11;
    const d = mk('circle', {cx: 560, cy: y, r: rad(c) * 0.85, fill: '#000'}, g);
    
    
    const t = txt(g, String(c), 571, y + 3, 8.5, 'start', '#222');
    
    
  });
  [['0.002', 763], ['0.001', 781]].forEach(([l, y]) => {
    const t = txt(g, l, 568, y + 3, 8.5, 'start', '#222');
    
    
  });
})();

// ---------- PANEL G ----------
(function(){
  const g = document.getElementById('panelG');
  const xs = r => 798 + (r - 0.04) * 2880;
  const ys = i => 608 + i * 17.87;
  const rad = c => 1.5 + 0.7 * c;
  const bg = mk('rect', {x: 768, y: 597, width: 207, height: 271, fill: '#fff', stroke: '#8a8a8a', 'stroke-width': 0.8}, g);
  
  
  gXTicks.forEach(t => {
    const gl = mk('line', {x1: xs(t), x2: xs(t), y1: 597, y2: 868, stroke: '#ececec', 'stroke-width': 0.6}, g);
    
    
    const lb = txt(g, t.toFixed(2), xs(t), 880, 8, 'middle', '#333');
    
    
  });
  gTerms.forEach((term, i) => {
    const gl = mk('line', {x1: 768, x2: 975, y1: ys(i), y2: ys(i), stroke: '#ececec', 'stroke-width': 0.6}, g);
    
    
    const lb = txt(g, term, 765, ys(i) + 3, 8.2, 'end', '#222');
    
    
    const c = mk('circle', {cx: xs(gRatio[i]), cy: ys(i), r: rad(gCount[i]), fill: pColor(gPval[i], 0.03)}, g);
    
    
  });
  gCountLegend.forEach((c, i) => {
    const y = 676 + i * 11.5;
    const d = mk('circle', {cx: 993, cy: y, r: rad(c) * 0.85, fill: '#000'}, g);
    
    
    const t = txt(g, String(c), 1003, y + 3, 8.5, 'start', '#222');
    
    
  });
  [['0.02', 770], ['0.01', 787]].forEach(([l, y]) => {
    const t = txt(g, l, 999, y + 3, 8.5, 'start', '#222');
    
    
  });
})();
</script>
</svg>
</body></html>
